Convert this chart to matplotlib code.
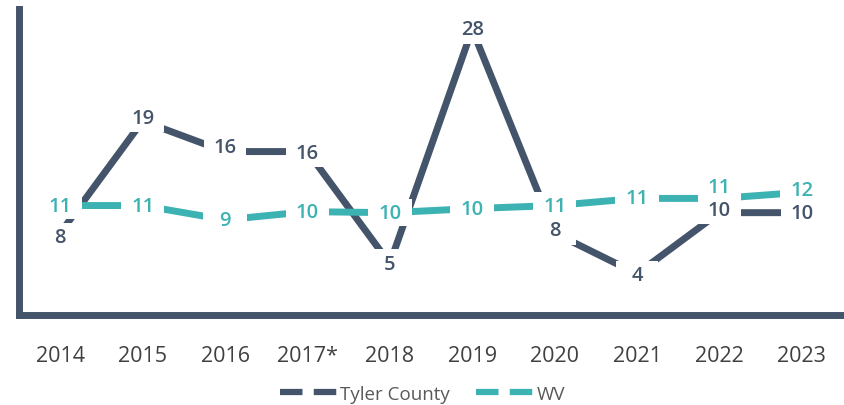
import matplotlib
matplotlib.use("Agg")
import matplotlib.pyplot as plt
from matplotlib.lines import Line2D
from matplotlib.path import Path

years = ["2014", "2015", "2016", "2017*", "2018", "2019", "2020", "2021", "2022", "2023"]
tyler = [8, 19, 16, 16, 5, 28, 8, 4, 10, 10]
wv = [10.7, 10.7, 9.3, 10.1, 10.0, 10.4, 10.7, 11.4, 11.4, 12.0]
tyler_labels = ["8", "19", "16", "16", "5", "28", "8", "4", "10", "10"]
wv_labels = ["11", "11", "9", "10", "10", "10", "11", "11", "11", "12"]

DARK = "#44546a"
TEAL = "#3db2b3"
FONT = ["Open Sans", "DejaVu Sans"]


def make_box(fw, fh):
    # fixed-size white label background (half width / half height relative to font size)
    def box(x0, y0, width, height, mutation_size):
        cx = x0 + width / 2
        cy = y0 + height / 2
        hw = max(width / 2 + 0.3 * mutation_size, fw * mutation_size)
        hh = fh * mutation_size
        xa, xb, ya, yb = cx - hw, cx + hw, cy - hh, cy + hh
        return Path([(xa, ya), (xb, ya), (xb, yb), (xa, yb), (xa, ya)], closed=True)
    return box


fig = plt.figure(figsize=(8.45, 4.06), dpi=100)
ax = fig.add_axes([19 / 845, (406 - 315.5) / 406, (843 - 19) / 845, (315.5 - 10) / 406])

x = list(range(len(years)))
ax.plot(x, tyler, color=DARK, lw=5, solid_capstyle="butt", zorder=2)
ax.plot(x, wv, color=TEAL, lw=5, solid_capstyle="butt", zorder=3)

# label vertical offsets in points (style only)
tyler_off = [-3, 2.5, 3.5, -1, 0, 0, 2, -1, 2, 0]
wv_off = [0, 0, 0, 0, 0, 0, 0, 0, 8, 1.5]

for i in x:
    ax.annotate(wv_labels[i], (i, wv[i]), xytext=(0, wv_off[i]),
                textcoords="offset points", ha="center", va="center",
                fontsize=14.5, fontweight="semibold", color=TEAL, family=FONT,
                bbox=dict(boxstyle=make_box(1.08, 0.68), fc="white", ec="none"), zorder=5)
for i in x:
    ax.annotate(tyler_labels[i], (i, tyler[i]), xytext=(0, tyler_off[i]),
                textcoords="offset points", ha="center", va="center",
                fontsize=14.5, fontweight="semibold", color=DARK, family=FONT,
                bbox=dict(boxstyle=make_box(1.05, 0.72), fc="white", ec="none"), zorder=6)

ax.set_xlim(-0.5, len(years) - 0.5)
ax.set_ylim(0, 30)
ax.set_xticks(x)
ax.set_xticklabels(years, fontsize=15.5, color="#404040", family=FONT)
ax.tick_params(axis="x", length=0, pad=22)
ax.set_yticks([])
for s in ["top", "right"]:
    ax.spines[s].set_visible(False)
for s in ["left", "bottom"]:
    ax.spines[s].set_color(DARK)
    ax.spines[s].set_linewidth(5)
    ax.spines[s].set_capstyle("projecting")

handles = [
    Line2D([], [], color=DARK, lw=4.5, dashes=(3.6, 1.8)),
    Line2D([], [], color=TEAL, lw=4.5, dashes=(3.6, 1.8)),
]
leg = fig.legend(handles, ["Tyler County", "WV"], loc="center", bbox_to_anchor=(0.5, 0.028),
                 ncol=2, frameon=False, handlelength=3.1, handletextpad=0.1,
                 columnspacing=1.4, prop={"family": FONT, "size": 13.5})
for t in leg.get_texts():
    t.set_color("#595959")

fig.savefig("out.png", dpi=100)
